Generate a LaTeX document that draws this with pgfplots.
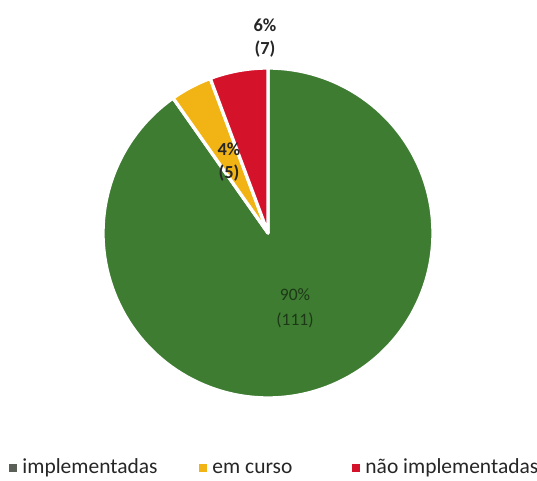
\documentclass[border=0pt]{standalone}
\usepackage{pgfplots}
\pgfplotsset{compat=1.18}
\usepackage{pgfplotstable}
\usepackage{fontspec}
\setmainfont{Carlito}
\definecolor{pgreen}{RGB}{62,124,50}
\definecolor{pyellow}{RGB}{242,180,20}
\definecolor{pred}{RGB}{212,18,42}
\definecolor{lgray}{RGB}{90,95,88}
\begin{document}
\begin{tikzpicture}
\pgfplotstableread{
name value
impl 111
curso 5
nao 7
}\piedata
\pgfplotstablegetelem{0}{value}\of\piedata \let\va\pgfplotsretval
\pgfplotstablegetelem{1}{value}\of\piedata \let\vb\pgfplotsretval
\pgfplotstablegetelem{2}{value}\of\piedata \let\vc\pgfplotsretval
\pgfmathsetmacro\tot{\va+\vb+\vc}
\pgfmathsetmacro\aA{90}
\pgfmathsetmacro\aB{90-360*(\va/\tot)}
\pgfmathsetmacro\aC{\aB-360*(\vb/\tot)}
\pgfmathsetmacro\aD{\aC-360*(\vc/\tot)}
\begin{axis}[
  name=pie,
  scale only axis, width=8cm, height=7.151cm,
  xmin=0, xmax=537, ymin=0, ymax=480,
  hide axis, clip=false,
]
\addplot[fill=pgreen, draw=white, line width=1.4pt, line join=round, domain=\aB:\aA, samples=150, variable=\t]
  ({268+165*cos(\t)},{247+165*sin(\t)}) -- (axis cs:268,247) -- cycle;
\addplot[fill=pyellow, draw=white, line width=1.4pt, line join=round, domain=\aC:\aB, samples=20, variable=\t]
  ({268+165*cos(\t)},{247+165*sin(\t)}) -- (axis cs:268,247) -- cycle;
\addplot[fill=pred, draw=white, line width=1.4pt, line join=round, domain=\aD:\aC, samples=25, variable=\t]
  ({268+165*cos(\t)},{247+165*sin(\t)}) -- (axis cs:268,247) -- cycle;
\node[align=center, font=\fontsize{7.8}{10}\selectfont\bfseries, text=black!85] at (axis cs:265,442) {6\%\\(7)};
\node[align=center, font=\fontsize{7.8}{10}\selectfont\bfseries, text=black!85] at (axis cs:229,318) {4\%\\(5)};
\node[align=center, font=\fontsize{7.4}{10.5}\selectfont, text=black!55!pgreen] at (axis cs:295,172) {90\%\\(111)};
% legend
\addplot[only marks, mark=square*, mark size=1.5pt, lgray] coordinates {(13,12)};
\addplot[only marks, mark=square*, mark size=1.5pt, pyellow] coordinates {(203,12)};
\addplot[only marks, mark=square*, mark size=1.5pt, pred] coordinates {(356,12)};
\node[anchor=west, font=\fontsize{9.1}{11}\selectfont, text=black!85, inner sep=0pt] at (axis cs:22,12) {implementadas};
\node[anchor=west, font=\fontsize{9.1}{11}\selectfont, text=black!85, inner sep=0pt] at (axis cs:212,12) {em curso};
\node[anchor=west, font=\fontsize{9.1}{11}\selectfont, text=black!85, inner sep=0pt] at (axis cs:365,12) {não implementadas};
\end{axis}
\pgfresetboundingbox
\path[use as bounding box] (pie.south west) rectangle (pie.north east);
\end{tikzpicture}
\end{document}
